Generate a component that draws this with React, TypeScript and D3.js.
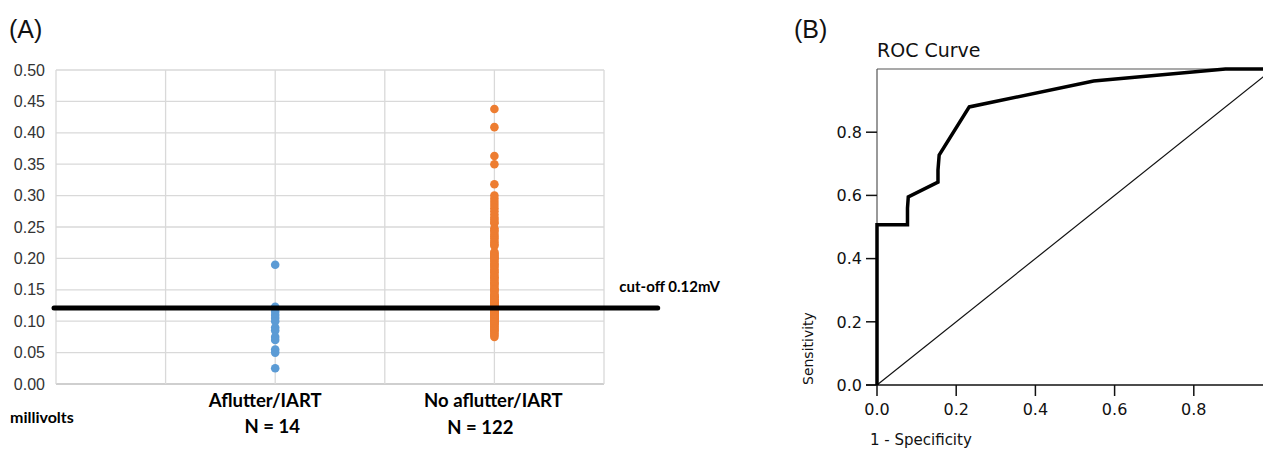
import React from "react";
import * as d3 from "d3";

// ---------- Panel A data ----------
const categories = ["Aflutter/IART", "No aflutter/IART"];
const categoryN = ["N = 14", "N = 122"];
const categoryPos = [2, 4];
const aflutterValues = [0.19, 0.123, 0.12, 0.115, 0.11, 0.105, 0.1, 0.09, 0.085, 0.075, 0.07, 0.055, 0.05, 0.025];
const noAflutterValues = [
  0.438, 0.409, 0.363, 0.35, 0.318, 0.3,
  0.295, 0.29, 0.285, 0.28, 0.275, 0.27, 0.265, 0.262, 0.258, 0.256,
  0.248, 0.245, 0.242, 0.238, 0.235, 0.232, 0.228, 0.225, 0.222, 0.22,
  0.21, 0.208, 0.206, 0.204, 0.202, 0.2, 0.198, 0.195, 0.192, 0.19,
  0.188, 0.185, 0.182, 0.18, 0.178, 0.175, 0.172, 0.17, 0.168, 0.165,
  0.162, 0.16, 0.158, 0.155, 0.152, 0.15, 0.15, 0.148, 0.145, 0.142,
  0.14, 0.14, 0.138, 0.138, 0.135, 0.135, 0.133, 0.132, 0.13, 0.13,
  0.13, 0.128, 0.128, 0.127, 0.125, 0.125, 0.125, 0.124, 0.123, 0.122,
  0.122, 0.121, 0.12, 0.12, 0.12, 0.12, 0.119, 0.118, 0.118, 0.117,
  0.116, 0.115, 0.115, 0.114,
  0.113, 0.112, 0.112, 0.111, 0.11, 0.11, 0.11, 0.109, 0.108, 0.107,
  0.106, 0.105, 0.105, 0.104, 0.103, 0.102, 0.1, 0.1, 0.099, 0.098,
  0.097, 0.095, 0.094, 0.092, 0.09, 0.088, 0.086, 0.085, 0.083, 0.08,
  0.078, 0.075,
];
const cutoffValue = 0.121;
const cutoffLabel = "cut-off 0.12mV";
const yTicksA = [0, 0.05, 0.1, 0.15, 0.2, 0.25, 0.3, 0.35, 0.4, 0.45, 0.5];
const xGridA = [0, 1, 2, 3, 4, 5];

// ---------- Panel B data ----------
const rocFpr = [0, 0, 0.077, 0.077, 0.079, 0.154, 0.154, 0.157, 0.233, 0.547, 0.88, 1.0];
const rocTpr = [0, 0.507, 0.507, 0.56, 0.595, 0.642, 0.68, 0.728, 0.88, 0.962, 1.0, 1.0];
const ticksB = [0, 0.2, 0.4, 0.6, 0.8];

const BLUE = "#5b9bd5";
const ORANGE = "#ed7d31";
const GRID = "#d9d9d9";

export default function App() {
  const xA = d3.scaleLinear().domain([0, 5]).range([56, 604]);
  const yA = d3.scaleLinear().domain([0, 0.5]).range([384, 70]);

  const xB = d3.scaleLinear().domain([0, 1]).range([877, 1273]);
  const yB = d3.scaleLinear().domain([0, 1]).range([385, 69]);

  const rocPts: [number, number][] = rocFpr.map((f, i) => [f, rocTpr[i]]);
  const rocLine = d3
    .line<[number, number]>()
    .x((d) => xB(d[0]))
    .y((d) => yB(d[1]));

  const sansA = "'Liberation Sans', Arial, sans-serif";
  const boldA = "Lato, 'DejaVu Sans', sans-serif";
  const sansB = "'DejaVu Sans', Verdana, sans-serif";

  return (
    <svg
      width={1263}
      height={450}
      style={{ position: "absolute", left: 0, top: 0, background: "#fff" }}
    >
      <rect x={0} y={0} width={1263} height={450} fill="#fff" />
      {/* ---------------- Panel A ---------------- */}
      <text x={9} y={38} fontFamily={sansA} fontSize={25} fill="#111">(A)</text>
      {yTicksA.map((t) => (
        <line key={"h" + t} x1={xA(0)} x2={xA(5)} y1={yA(t)} y2={yA(t)} stroke={t === 0 ? "#bfbfbf" : GRID} strokeWidth={1.3} />
      ))}
      {xGridA.map((g) => (
        <line key={"v" + g} x1={xA(g)} x2={xA(g)} y1={yA(0.5)} y2={yA(0)} stroke={GRID} strokeWidth={1.3} />
      ))}
      {yTicksA.map((t) => (
        <text key={"yt" + t} x={45} y={yA(t)} dy="0.35em" textAnchor="end" fontFamily={sansA} fontSize={16} fill="#333">
          {t.toFixed(2)}
        </text>
      ))}
      {aflutterValues.map((v, i) => (
        <circle key={"a" + i} cx={xA(categoryPos[0])} cy={yA(v)} r={4.3} fill={BLUE} />
      ))}
      {noAflutterValues.map((v, i) => (
        <circle key={"n" + i} cx={xA(categoryPos[1])} cy={yA(v)} r={4.3} fill={ORANGE} />
      ))}
      <line x1={xA(0) - 2} x2={xA(5.49)} y1={yA(cutoffValue)} y2={yA(cutoffValue)} stroke="#000" strokeWidth={5} strokeLinecap="round" />
      <text x={xA(5.14)} y={292} fontFamily={boldA} fontWeight="bold" fontSize={15} fill="#000">{cutoffLabel}</text>
      <text x={xA(categoryPos[0]) - 10} y={407} textAnchor="middle" fontFamily={boldA} fontWeight="bold" fontSize={18.5} fill="#000">{categories[0]}</text>
      <text x={xA(categoryPos[0]) - 3} y={433} textAnchor="middle" fontFamily={boldA} fontWeight="bold" fontSize={18.5} fill="#000">{categoryN[0]}</text>
      <text x={xA(categoryPos[1]) - 1} y={407} textAnchor="middle" fontFamily={boldA} fontWeight="bold" fontSize={18.5} fill="#000">{categories[1]}</text>
      <text x={xA(categoryPos[1]) - 14} y={434} textAnchor="middle" fontFamily={boldA} fontWeight="bold" fontSize={18.5} fill="#000">{categoryN[1]}</text>
      <text x={10} y={423} fontFamily={boldA} fontWeight="bold" fontSize={16} fill="#000">millivolts</text>

      {/* ---------------- Panel B ---------------- */}
      <text x={794} y={38} fontFamily={sansA} fontSize={25} fill="#111">(B)</text>
      <text x={877} y={57} fontFamily={sansB} fontSize={19} fill="#111">ROC Curve</text>
      <line x1={xB(0)} x2={1263} y1={yB(1)} y2={yB(1)} stroke="#555" strokeWidth={1.2} />
      <line x1={xB(0)} x2={xB(0)} y1={yB(1)} y2={yB(0)} stroke="#555" strokeWidth={1.2} />
      <line x1={xB(0) - 11} x2={1263} y1={yB(0)} y2={yB(0)} stroke="#111" strokeWidth={1.5} />
      {ticksB.map((t) => (
        <g key={"by" + t}>
          <line x1={xB(0) - 11} x2={xB(0)} y1={yB(t)} y2={yB(t)} stroke="#111" strokeWidth={1.5} />
          <text x={862} y={yB(t)} dy="0.36em" textAnchor="end" fontFamily={sansB} fontSize={16} fill="#111">{t.toFixed(1)}</text>
        </g>
      ))}
      {ticksB.map((t) => (
        <g key={"bx" + t}>
          <line x1={xB(t)} x2={xB(t)} y1={yB(0)} y2={yB(0) + 11} stroke="#111" strokeWidth={1.5} />
          <text x={xB(t)} y={415} textAnchor="middle" fontFamily={sansB} fontSize={16} fill="#111">{t.toFixed(1)}</text>
        </g>
      ))}
      <text x={870} y={445} fontFamily={sansB} fontSize={15} fill="#111">1 - Specificity</text>
      <text transform={`translate(813,${yB(0)}) rotate(-90)`} fontFamily={sansB} fontSize={14} fill="#111">Sensitivity</text>
      <line x1={xB(0)} y1={yB(0)} x2={xB(1)} y2={yB(1)} stroke="#111" strokeWidth={1.2} />
      <path d={rocLine(rocPts) || ""} fill="none" stroke="#000" strokeWidth={3.5} strokeLinejoin="miter" />
    </svg>
  );
}
